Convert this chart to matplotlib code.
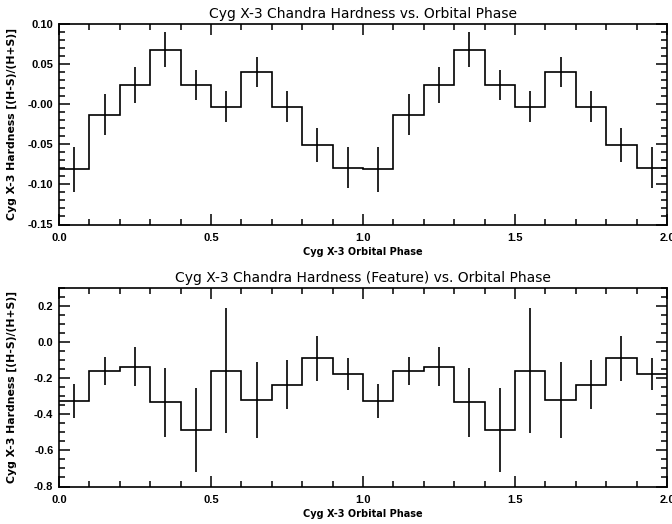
import numpy as np
import matplotlib
matplotlib.use('Agg')
import matplotlib.pyplot as plt
from matplotlib.ticker import FixedLocator, FixedFormatter, MultipleLocator

# Dados (um ciclo orbital, repetido duas vezes no gráfico)
phase = [0.05, 0.15, 0.25, 0.35, 0.45, 0.55, 0.65, 0.75, 0.85, 0.95]
bin_width = 0.1

hard_total = [-0.081, -0.013, 0.024, 0.068, 0.024, -0.003, 0.040, -0.003, -0.051, -0.079]
err_total = [0.028, 0.026, 0.022, 0.022, 0.019, 0.019, 0.019, 0.019, 0.021, 0.026]

hard_feature = [-0.326, -0.160, -0.136, -0.334, -0.488, -0.158, -0.320, -0.235, -0.090, -0.177]
err_feature = [0.094, 0.078, 0.107, 0.190, 0.233, 0.345, 0.211, 0.136, 0.123, 0.089]

xticks = [0.0, 0.5, 1.0, 1.5, 2.0]
xticklabels = ['0.0', '0.5', '1.0', '1.5', '2.0']
yticks_top = [-0.15, -0.10, -0.05, 0.0, 0.05, 0.10]
yticklabels_top = ['-0.15', '-0.10', '-0.05', '-0.00', '0.05', '0.10']
yticks_bot = [-0.8, -0.6, -0.4, -0.2, 0.0, 0.2]
yticklabels_bot = ['-0.8', '-0.6', '-0.4', '-0.2', '0.0', '0.2']

plt.rcParams['font.family'] = ['Liberation Sans', 'DejaVu Sans']

fig = plt.figure(figsize=(6.72, 5.24), dpi=100)
ax1 = fig.add_axes([59/672, 1 - 224.5/524, 608/672, 200.5/524])
ax2 = fig.add_axes([59/672, 1 - 486.5/524, 608/672, 198.5/524])


def painel(ax, hard, err, ylim, yticks, yticklabels, yminor, title):
    # duas fases orbitais
    x = np.concatenate([np.array(phase), np.array(phase) + 1.0])
    y = np.concatenate([hard, hard])
    e = np.concatenate([err, err])
    edges = np.append(x - bin_width / 2, x[-1] + bin_width / 2)
    ax.stairs(y, edges, baseline=None, color='k', lw=1.2)
    ax.errorbar(x, y, yerr=e, fmt='none', ecolor='k', elinewidth=1.2, capsize=0)

    ax.set_xlim(0, 2)
    ax.set_ylim(*ylim)
    ax.xaxis.set_major_locator(FixedLocator(xticks))
    ax.xaxis.set_major_formatter(FixedFormatter(xticklabels))
    ax.xaxis.set_minor_locator(MultipleLocator(0.1))
    ax.yaxis.set_major_locator(FixedLocator(yticks))
    ax.yaxis.set_major_formatter(FixedFormatter(yticklabels))
    ax.yaxis.set_minor_locator(MultipleLocator(yminor))
    ax.tick_params(which='both', direction='in', top=True, right=True, width=1.1)
    ax.tick_params(which='major', length=8, labelsize=8)
    ax.tick_params(which='minor', length=4.5)
    ax.tick_params(axis='x', pad=6)
    ax.tick_params(axis='y', pad=4)
    for lab in ax.get_xticklabels() + ax.get_yticklabels():
        lab.set_fontweight('bold')
    for s in ax.spines.values():
        s.set_linewidth(1.2)

    ax.set_title(title, fontsize=10, pad=4, family='DejaVu Sans')
    ax.set_xlabel('Cyg X-3 Orbital Phase', fontsize=7, fontweight='bold', family='DejaVu Sans')
    ax.set_ylabel('Cyg X-3 Hardness [(H-S)/(H+S)]', fontsize=7.8, fontweight='bold',
                  family='DejaVu Sans')
    ax.xaxis.set_label_coords(0.5, -0.112)
    ax.yaxis.set_label_coords(-0.078, 0.5)
    ax.yaxis.label.set_va('center')


painel(ax1, hard_total, err_total, (-0.15, 0.10), yticks_top, yticklabels_top, 0.01,
       'Cyg X-3 Chandra Hardness vs. Orbital Phase')
painel(ax2, hard_feature, err_feature, (-0.8, 0.3), yticks_bot, yticklabels_bot, 0.05,
       'Cyg X-3 Chandra Hardness (Feature) vs. Orbital Phase')

plt.savefig('out.png', dpi=100)
